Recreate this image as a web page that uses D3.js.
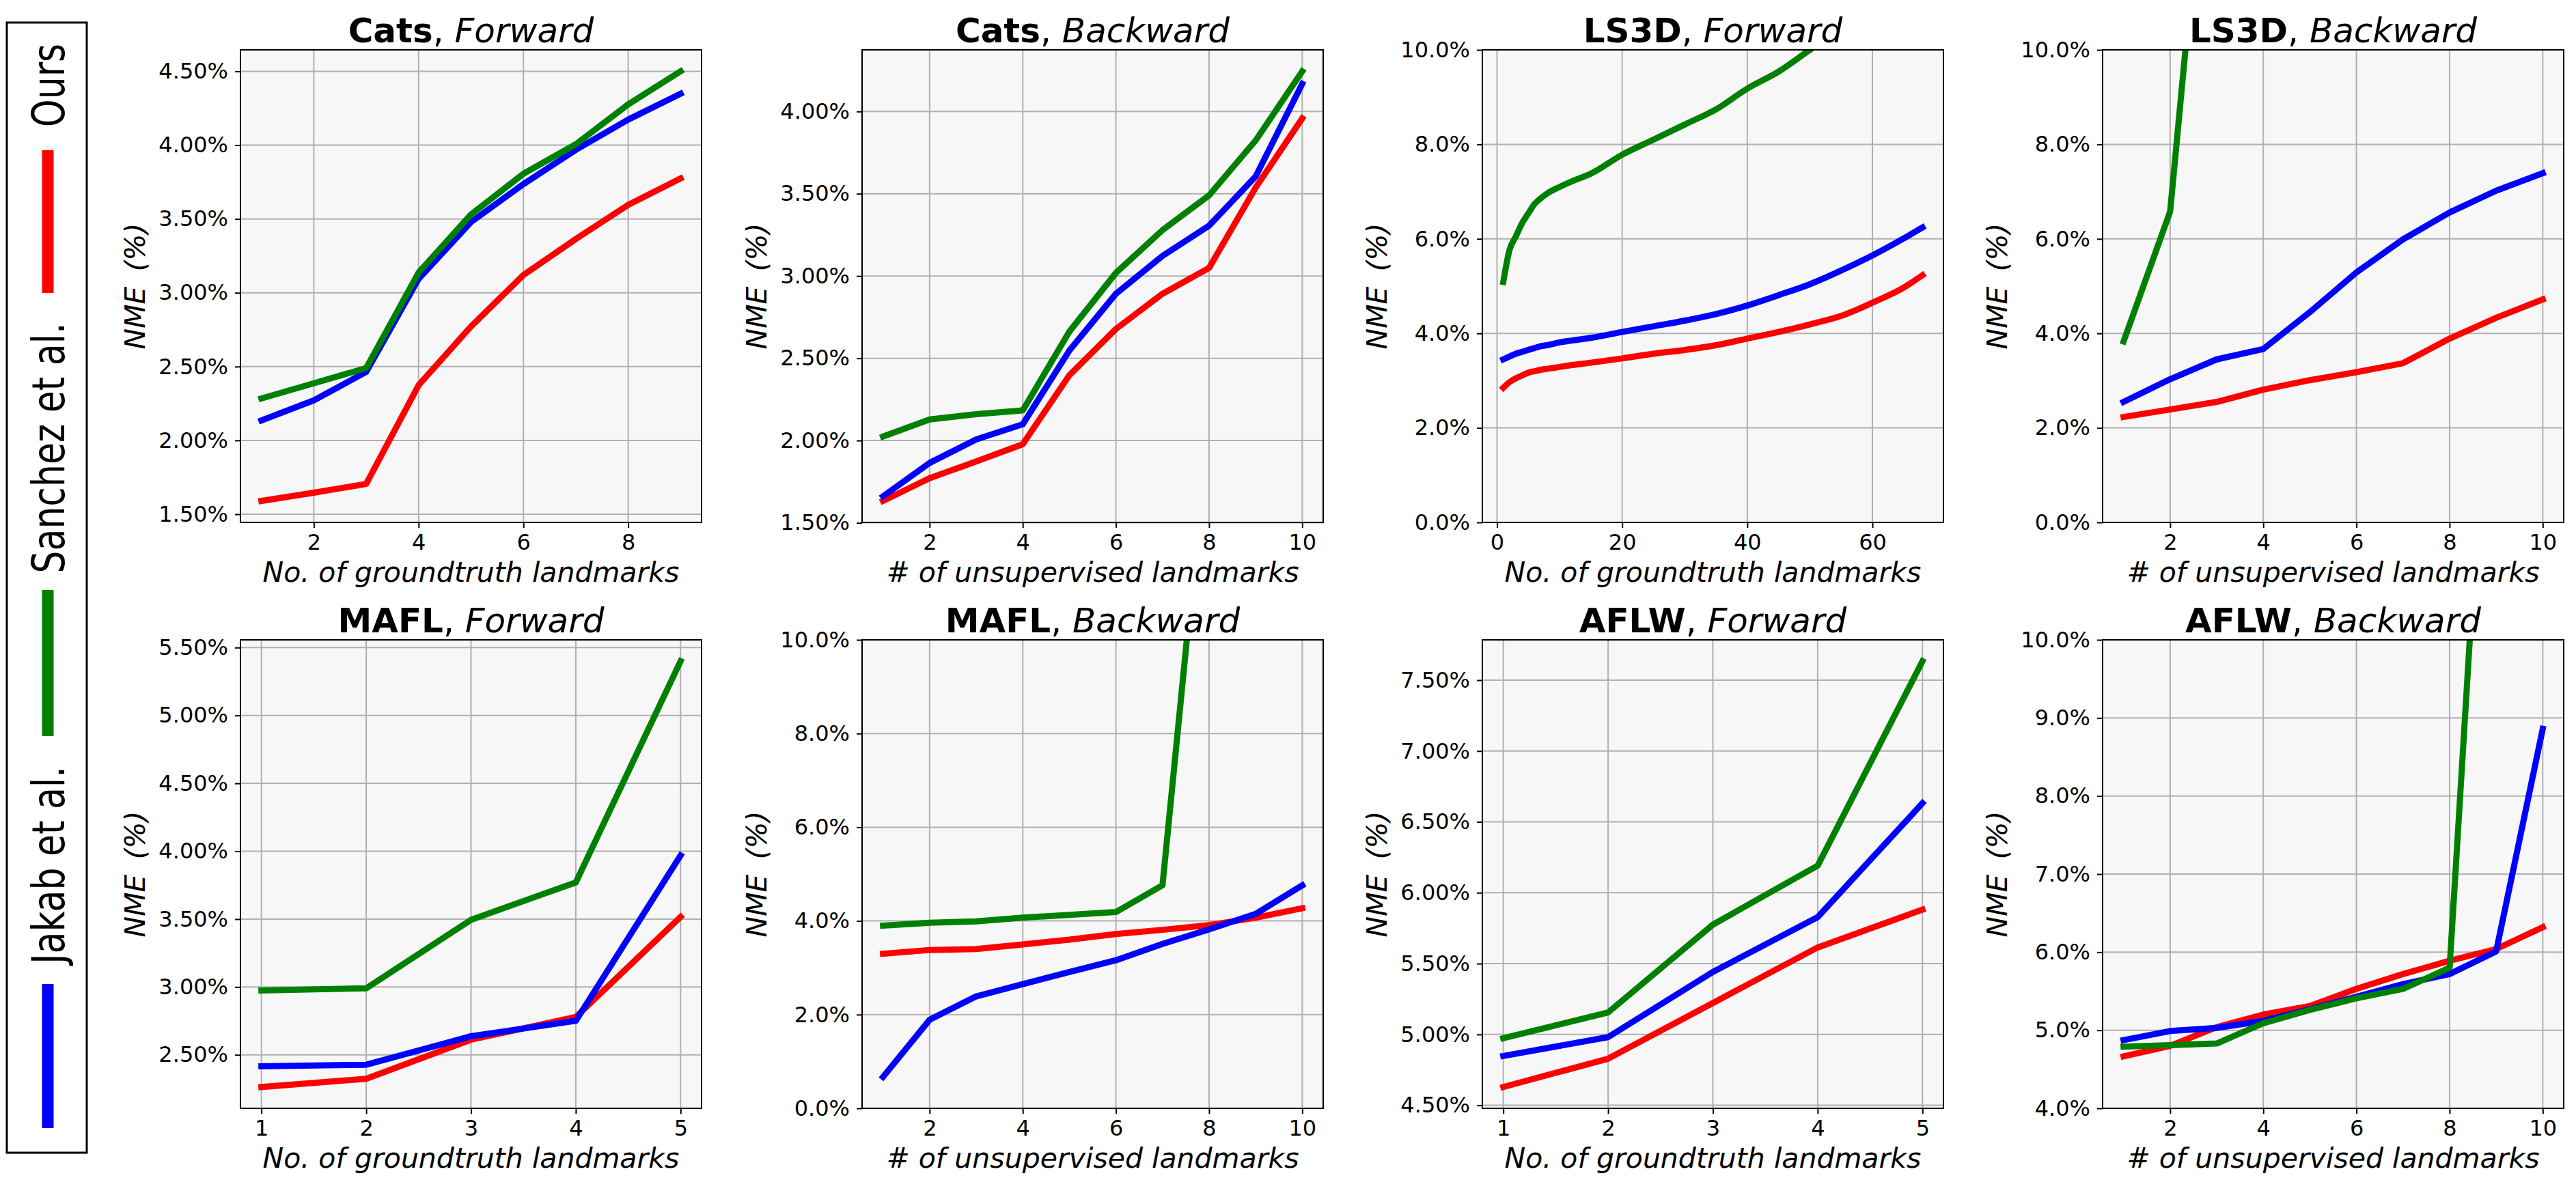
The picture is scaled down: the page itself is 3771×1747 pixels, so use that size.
<!DOCTYPE html>
<html>
<head>
<meta charset="utf-8">
<script src="https://cdn.jsdelivr.net/npm/d3@7"></script>
<style>
  body { margin: 0; background: #fff; }
  text { font-family: "DejaVu Sans", sans-serif; fill: #000; }
</style>
</head>
<body>
<svg id="chart" width="3771" height="1747"></svg>
<script>
// ---- data (NME in %) ----
const seriesNames = ["Ours", "Sanchez et al.", "Jakab et al."];

// Cats, Forward
const catsFwdX = [1, 2, 3, 4, 5, 6, 7, 8, 9];
const catsFwdOurs = [1.59, 1.646, 1.705, 2.374, 2.772, 3.12, 3.364, 3.595, 3.775];
const catsFwdSanchez = [2.284, 2.387, 2.49, 3.137, 3.531, 3.806, 4.006, 4.276, 4.5];
const catsFwdJakab = [2.135, 2.271, 2.464, 3.094, 3.479, 3.736, 3.968, 4.173, 4.348];

// Cats, Backward
const catsBwdX = [1, 2, 3, 4, 5, 6, 7, 8, 9, 10];
const catsBwdOurs = [1.633, 1.771, 1.873, 1.978, 2.397, 2.678, 2.892, 3.049, 3.537, 3.958];
const catsBwdSanchez = [2.024, 2.128, 2.16, 2.183, 2.662, 3.019, 3.279, 3.49, 3.824, 4.244];
const catsBwdJakab = [1.661, 1.864, 2.007, 2.099, 2.547, 2.892, 3.122, 3.306, 3.605, 4.168];

// LS3D, Forward (sampled along the 68-landmark curves)
const ls3dFwdX = [1, 2, 3, 4, 5, 6, 7, 8, 10, 12, 15, 20, 25, 30, 35, 40, 45, 50, 55, 60, 65, 68];
const ls3dFwdOurs = [2.85, 2.97, 3.05, 3.11, 3.17, 3.2, 3.23, 3.25, 3.29, 3.33, 3.38, 3.47, 3.57, 3.65, 3.75, 3.89, 4.03, 4.19, 4.37, 4.65, 4.97, 5.23];
const ls3dFwdSanchez = [5.09, 5.77, 6.05, 6.33, 6.54, 6.74, 6.86, 6.96, 7.1, 7.22, 7.38, 7.78, 8.1, 8.42, 8.74, 9.18, 9.54, 10.0, 10.45, 10.9, 11.4, 11.7];
const ls3dFwdJakab = [3.45, 3.51, 3.57, 3.61, 3.65, 3.69, 3.73, 3.75, 3.81, 3.85, 3.905, 4.03, 4.15, 4.27, 4.41, 4.59, 4.81, 5.04, 5.33, 5.65, 6.01, 6.24];

// LS3D, Backward
const ls3dBwdX = [1, 2, 3, 4, 5, 6, 7, 8, 9, 10];
const ls3dBwdOurs = [2.23, 2.39, 2.55, 2.81, 3.01, 3.18, 3.37, 3.89, 4.33, 4.72];
const ls3dBwdSanchez = [3.83, 6.58, 17.0, null, null, null, null, null, null, null];
const ls3dBwdJakab = [2.55, 3.03, 3.45, 3.67, 4.45, 5.29, 5.99, 6.56, 7.02, 7.39];

// MAFL, Forward
const maflFwdX = [1, 2, 3, 4, 5];
const maflFwdOurs = [2.263, 2.324, 2.612, 2.779, 3.516];
const maflFwdSanchez = [2.974, 2.99, 3.495, 3.77, 5.4];
const maflFwdJakab = [2.416, 2.427, 2.637, 2.751, 3.969];

// MAFL, Backward
const maflBwdX = [1, 2, 3, 4, 5, 6, 7, 8, 9, 10];
const maflBwdOurs = [3.3, 3.38, 3.4, 3.5, 3.6, 3.72, 3.81, 3.91, 4.07, 4.27];
const maflBwdSanchez = [3.9, 3.96, 3.99, 4.07, 4.13, 4.19, 4.76, 14.8, null, null];
const maflBwdJakab = [0.67, 1.89, 2.39, 2.65, 2.91, 3.16, 3.51, 3.82, 4.15, 4.76];

// AFLW, Forward
const aflwFwdX = [1, 2, 3, 4, 5];
const aflwFwdOurs = [4.629, 4.829, 5.222, 5.614, 5.881];
const aflwFwdSanchez = [4.973, 5.155, 5.775, 6.191, 7.634];
const aflwFwdJakab = [4.848, 4.981, 5.441, 5.828, 6.632];

// AFLW, Backward
const aflwBwdX = [1, 2, 3, 4, 5, 6, 7, 8, 9, 10];
const aflwBwdOurs = [4.666, 4.8, 5.04, 5.2, 5.31, 5.53, 5.72, 5.89, 6.04, 6.32];
const aflwBwdSanchez = [4.79, 4.81, 4.83, 5.09, 5.26, 5.41, 5.53, 5.8, 15.5, null];
const aflwBwdJakab = [4.874, 4.99, 5.03, 5.12, 5.27, 5.43, 5.59, 5.72, 6.01, 8.86];

// tick values
const ticksX_1to9 = [2, 4, 6, 8];
const ticksX_1to10 = [2, 4, 6, 8, 10];
const ticksX_1to5 = [1, 2, 3, 4, 5];
const ticksX_ls3d = [0, 20, 40, 60];
const ticksY_catsFwd = [1.5, 2.0, 2.5, 3.0, 3.5, 4.0, 4.5];
const ticksY_catsBwd = [1.5, 2.0, 2.5, 3.0, 3.5, 4.0];
const ticksY_0to10 = [0, 2, 4, 6, 8, 10];
const ticksY_maflFwd = [2.5, 3.0, 3.5, 4.0, 4.5, 5.0, 5.5];
const ticksY_aflwFwd = [4.5, 5.0, 5.5, 6.0, 6.5, 7.0, 7.5];
const ticksY_aflwBwd = [4, 5, 6, 7, 8, 9, 10];

const gtLabel = "No. of groundtruth landmarks";
const unsupLabel = "# of unsupervised landmarks";

const panels = [
  { name: "Cats", dir: "Forward", x: catsFwdX, s: [catsFwdOurs, catsFwdSanchez, catsFwdJakab], xt: ticksX_1to9, yt: ticksY_catsFwd, yFix: null, dec: 2, xl: gtLabel },
  { name: "Cats", dir: "Backward", x: catsBwdX, s: [catsBwdOurs, catsBwdSanchez, catsBwdJakab], xt: ticksX_1to10, yt: ticksY_catsBwd, yFix: null, dec: 2, xl: unsupLabel },
  { name: "LS3D", dir: "Forward", x: ls3dFwdX, s: [ls3dFwdOurs, ls3dFwdSanchez, ls3dFwdJakab], xt: ticksX_ls3d, yt: ticksY_0to10, yFix: [0, 10], dec: 1, xl: gtLabel, smooth: true },
  { name: "LS3D", dir: "Backward", x: ls3dBwdX, s: [ls3dBwdOurs, ls3dBwdSanchez, ls3dBwdJakab], xt: ticksX_1to10, yt: ticksY_0to10, yFix: [0, 10], dec: 1, xl: unsupLabel },
  { name: "MAFL", dir: "Forward", x: maflFwdX, s: [maflFwdOurs, maflFwdSanchez, maflFwdJakab], xt: ticksX_1to5, yt: ticksY_maflFwd, yFix: null, dec: 2, xl: gtLabel },
  { name: "MAFL", dir: "Backward", x: maflBwdX, s: [maflBwdOurs, maflBwdSanchez, maflBwdJakab], xt: ticksX_1to10, yt: ticksY_0to10, yFix: [0, 10], dec: 1, xl: unsupLabel },
  { name: "AFLW", dir: "Forward", x: aflwFwdX, s: [aflwFwdOurs, aflwFwdSanchez, aflwFwdJakab], xt: ticksX_1to5, yt: ticksY_aflwFwd, yFix: null, dec: 2, xl: gtLabel },
  { name: "AFLW", dir: "Backward", x: aflwBwdX, s: [aflwBwdOurs, aflwBwdSanchez, aflwBwdJakab], xt: ticksX_1to10, yt: ticksY_aflwBwd, yFix: [4, 10], dec: 1, xl: unsupLabel }
];

// ---- layout ----
const svg = d3.select("#chart");
const colors = ["#ff0000", "#008000", "#0000ff"];   // Ours, Sanchez, Jakab
const drawOrder = [0, 2, 1];                          // red, then blue, green on top
const colLeft = [352, 1262, 2170, 3078];
const rowTop = [73, 937];
const rowH = [692, 686];
const plotW = 675;

// matplotlib-style 5% autoscale margin
const pad = ([a, b]) => [a - 0.05 * (b - a), b + 0.05 * (b - a)];

panels.forEach((p, i) => {
  const col = i % 4, row = Math.floor(i / 4);
  const h = rowH[row];
  const g = svg.append("g").attr("transform", `translate(${colLeft[col]},${rowTop[row]})`);

  const x = d3.scaleLinear().domain(pad(d3.extent(p.x))).range([0, plotW]);
  const allY = p.s.flat().filter(v => v != null);
  const y = d3.scaleLinear().domain(p.yFix || pad(d3.extent(allY))).range([h, 0]);

  // background
  g.append("rect").attr("width", plotW).attr("height", h).attr("fill", "#f7f7f7");

  // grid
  g.selectAll(".gx").data(p.xt).join("line")
    .attr("x1", d => x(d)).attr("x2", d => x(d)).attr("y1", 0).attr("y2", h)
    .attr("stroke", "#b0b0b0").attr("stroke-width", 2);
  g.selectAll(".gy").data(p.yt).join("line")
    .attr("y1", d => y(d)).attr("y2", d => y(d)).attr("x1", 0).attr("x2", plotW)
    .attr("stroke", "#b0b0b0").attr("stroke-width", 2);

  // series, clipped to the axes
  const clipId = "clip" + i;
  g.append("clipPath").attr("id", clipId).append("rect").attr("width", plotW).attr("height", h);
  const line = d3.line()
    .defined(d => d[1] != null)
    .curve(p.smooth ? d3.curveMonotoneX : d3.curveLinear)
    .x(d => x(d[0])).y(d => y(d[1]));
  drawOrder.forEach(k => {
    g.append("path")
      .attr("clip-path", `url(#${clipId})`)
      .attr("d", line(p.x.map((xv, j) => [xv, p.s[k][j]])))
      .attr("fill", "none")
      .attr("stroke", colors[k])
      .attr("stroke-width", 9)
      .attr("stroke-linejoin", "round")
      .attr("stroke-linecap", "square");
  });

  // axes
  const xAxis = g.append("g").attr("transform", `translate(0,${h})`)
    .call(d3.axisBottom(x).tickValues(p.xt).tickFormat(d3.format("d")).tickSize(8).tickPadding(9));
  const yAxis = g.append("g")
    .call(d3.axisLeft(y).tickValues(p.yt).tickFormat(d => d.toFixed(p.dec) + "%").tickSize(8).tickPadding(10));
  [xAxis, yAxis].forEach(a => {
    a.select(".domain").remove();
    a.selectAll("line").attr("stroke", "#000").attr("stroke-width", 2);
    a.selectAll("text").style("font-size", "32px").style("font-family", "DejaVu Sans");
  });

  // frame
  g.append("rect").attr("width", plotW).attr("height", h)
    .attr("fill", "none").attr("stroke", "#000").attr("stroke-width", 2);

  // title
  const t = g.append("text").attr("x", plotW / 2).attr("y", -11)
    .attr("text-anchor", "middle").style("font-size", "50px");
  t.append("tspan").style("font-weight", "bold").text(p.name);
  t.append("tspan").text(", ");
  t.append("tspan").style("font-style", "italic").text(p.dir);

  // axis labels
  g.append("text").attr("x", plotW / 2).attr("y", h + 87)
    .attr("text-anchor", "middle").style("font-size", "41px").style("font-style", "italic")
    .text(p.xl);
  const yl = g.append("text")
    .attr("transform", `translate(-140,${h / 2}) rotate(-90)`)
    .attr("text-anchor", "middle").style("font-size", "41px").style("font-style", "italic");
  yl.append("tspan").text("NME");
  yl.append("tspan").attr("dx", 22).text("(%)");
});

// ---- vertical legend on the left ----
const legend = svg.append("g");
legend.append("rect").attr("x", 10).attr("y", 33).attr("width", 117).attr("height", 1655)
  .attr("fill", "#fff").attr("stroke", "#000").attr("stroke-width", 3);

const legendItems = [
  { name: seriesNames[0], color: colors[0], line: [220, 429], textY: 125 },
  { name: seriesNames[1], color: colors[1], line: [864, 1078], textY: 656 },
  { name: seriesNames[2], color: colors[2], line: [1441, 1652], textY: 1267 }
];
legendItems.forEach(d => {
  legend.append("line")
    .attr("x1", 70).attr("x2", 70).attr("y1", d.line[0]).attr("y2", d.line[1])
    .attr("stroke", d.color).attr("stroke-width", 17);
  legend.append("text")
    .attr("transform", `translate(94,${d.textY}) rotate(-90) scale(1,1.25)`)
    .attr("text-anchor", "middle")
    .style("font-size", "52px")
    .text(d.name);
});
</script>
</body>
</html>
